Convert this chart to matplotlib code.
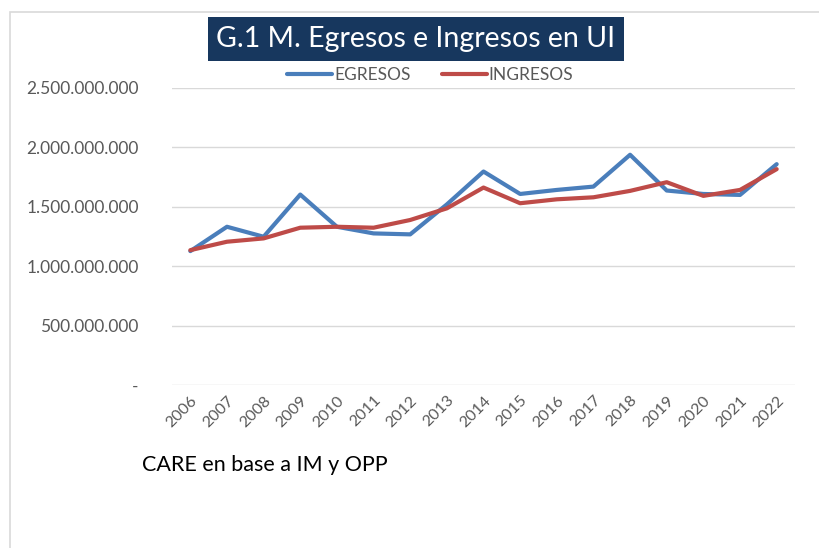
import matplotlib.pyplot as plt
from matplotlib.patches import Rectangle
from matplotlib.ticker import FuncFormatter

# data
years = [str(y) for y in range(2006, 2023)]
egresos = [1.127e9, 1.332e9, 1.248e9, 1.603e9, 1.332e9, 1.276e9, 1.268e9, 1.52e9, 1.797e9,
           1.608e9, 1.642e9, 1.670e9, 1.938e9, 1.637e9, 1.608e9, 1.600e9, 1.859e9]
ingresos = [1.135e9, 1.206e9, 1.234e9, 1.324e9, 1.332e9, 1.324e9, 1.389e9, 1.487e9, 1.662e9,
            1.530e9, 1.563e9, 1.580e9, 1.634e9, 1.707e9, 1.592e9, 1.642e9, 1.817e9]
yticks = [0, 5e8, 1e9, 1.5e9, 2e9, 2.5e9]

plt.rcParams['font.family'] = ['Lato', 'DejaVu Sans']

fig = plt.figure(figsize=(8.19, 5.48), dpi=100)
W, H = 819, 548

# light frame of the chart area
fig.patches.append(Rectangle((10 / W, -0.05), 1.0, 1 - 12 / H + 0.05, transform=fig.transFigure,
                             fill=False, edgecolor='#d9d9d9', linewidth=1.2))

ax = fig.add_axes([172 / W, 1 - 385 / H, (795 - 172) / W, (385 - 88) / H])
x = range(len(years))
ax.plot(x, egresos, color='#4a7ebb', linewidth=3, label='EGRESOS', solid_capstyle='round')
ax.plot(x, ingresos, color='#be4b48', linewidth=3, label='INGRESOS', solid_capstyle='round')

ax.set_xlim(-0.5, len(years) - 0.5)
ax.set_ylim(0, 2.5e9)
ax.set_yticks(yticks)

def fmt(v, pos):
    if v == 0:
        return '-'
    return f'{int(v):,}'.replace(',', '.')

ax.yaxis.set_major_formatter(FuncFormatter(fmt))
ax.set_xticks(list(x))
ax.set_xticklabels(years, rotation=45, ha='right', rotation_mode='anchor')
ax.tick_params(axis='y', length=0, labelsize=12.5, labelcolor='#595959', pad=24)
ax.tick_params(axis='x', length=0, labelsize=11.5, labelcolor='#595959', pad=6)
ax.grid(axis='y', color='#d9d9d9', linewidth=1)
ax.set_axisbelow(True)
for s in ax.spines.values():
    s.set_visible(False)

fig.legend(loc='center', bbox_to_anchor=(430 / W, 1 - 75 / H), ncol=2, frameon=False,
           fontsize=12.5, handlelength=2.6, handletextpad=0.1, columnspacing=1.8,
           labelcolor='#595959')

fig.text(416 / W, 1 - 39 / H, 'G.1 M. Egresos e Ingresos en UI', ha='center', va='center',
         color='white', fontsize=20.5,
         bbox=dict(boxstyle='square,pad=0.3', facecolor='#17375e', edgecolor='none'))

fig.text(142 / W, 1 - 465 / H, 'CARE en base a IM y OPP', ha='left', va='center',
         color='black', fontsize=15.5)

fig.savefig('out.png', dpi=100)
